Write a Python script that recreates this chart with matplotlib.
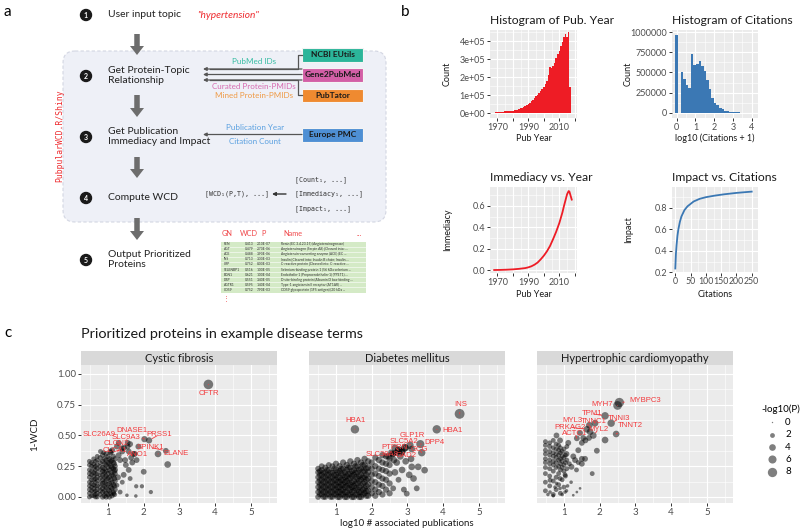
import matplotlib.pyplot as plt
import numpy as np
from matplotlib.patches import Circle, FancyArrow, FancyBboxPatch, Rectangle
from matplotlib.ticker import FuncFormatter, MultipleLocator

plt.rcParams['font.family'] = ['Lato', 'DejaVu Sans']
plt.rcParams['axes.unicode_minus'] = False

W, H = 800, 530
RED = '#ee2a2e'
BAR_RED = '#ee1c25'
BLUE = '#3b78b4'
LAB_RED = '#f23a3d'

# ---------------- panel b data ----------------
pub_years = list(range(1966, 2018))
pub_counts = [3000, 3500, 4000, 4500, 5000, 5500, 6000, 7000, 9000, 10000,
              11000, 12000, 13000, 14000, 15000, 17000, 19000, 21000, 24000, 27000,
              31000, 35000, 40000, 45000, 51000, 58000, 66000, 74000, 83000, 93000,
              104000, 115000, 125000, 136000, 147000, 160000, 180000, 210000, 255000, 250000,
              262000, 280000, 305000, 330000, 345000, 372000, 395000, 420000, 440000, 420000,
              450000, 145000]

cit_bins = [0.0, 0.137, 0.274, 0.411, 0.548, 0.685, 0.822, 0.959, 1.096, 1.233,
            1.370, 1.507, 1.644, 1.781, 1.918, 2.055, 2.192, 2.329, 2.466, 2.603,
            2.740, 2.877, 3.014, 3.151, 3.288, 3.425, 3.562, 3.699, 3.836, 3.973]
cit_counts = [967000, 0, 510000, 415000, 348000, 311000, 735000, 594000, 603000, 640000,
              584000, 520000, 404000, 300000, 185000, 123000, 90000, 62000, 41000, 25000,
              16000, 12000, 8000, 5000, 3000, 1500, 800, 400, 200, 100]

imm_year = [1968, 1972, 1976, 1980, 1984, 1988, 1990, 1992, 1994, 1996, 1998, 2000,
            2002, 2004, 2006, 2008, 2010, 2012, 2013, 2014, 2015, 2016, 2016.5, 2017, 2018]
imm_val = [0.000, 0.001, 0.003, 0.006, 0.011, 0.018, 0.025, 0.035, 0.050, 0.070, 0.100, 0.134,
           0.175, 0.225, 0.290, 0.360, 0.440, 0.540, 0.600, 0.655, 0.710, 0.740, 0.735, 0.710, 0.660]

imp_cit = [0, 2, 4, 7, 10, 15, 20, 30, 40, 60, 80, 100, 130, 160, 200, 250]
imp_val = [0.235, 0.37, 0.45, 0.54, 0.60, 0.67, 0.72, 0.78, 0.815, 0.86, 0.885, 0.90,
           0.915, 0.927, 0.94, 0.952]

# ---------------- panel c data ----------------
facet_names = ['Cystic fibrosis', 'Diabetes mellitus', 'Hypertrophic cardiomyopathy']

# dense columns: (log10 # pubs, -log10 P, list of 1-WCD)
cf_cols = [
    (0.48, 2.0, [0.00, 0.03, 0.06, 0.09, 0.12, 0.16, 0.19, 0.22, 0.26, 0.29]),
    (0.54, 2.0, [0.01, 0.05, 0.08, 0.11, 0.14, 0.18, 0.21, 0.25, 0.28]),
    (0.60, 2.0, [0.01, 0.04, 0.07, 0.10, 0.14, 0.17, 0.20, 0.24, 0.27, 0.31]),
    (0.65, 2.0, [0.00, 0.02, 0.05, 0.09, 0.12, 0.15, 0.19, 0.22, 0.25, 0.29]),
    (0.70, 2.0, [0.00, 0.03, 0.06, 0.09, 0.13, 0.16, 0.19, 0.23, 0.26, 0.30, 0.33]),
    (0.78, 2.0, [0.02, 0.05, 0.08, 0.11, 0.15, 0.18, 0.22, 0.25, 0.28, 0.32]),
    (0.85, 2.5, [0.00, 0.04, 0.07, 0.11, 0.14, 0.18, 0.21, 0.24, 0.29, 0.34]),
    (0.90, 2.5, [0.01, 0.05, 0.09, 0.12, 0.16, 0.20, 0.23, 0.27, 0.31]),
    (0.95, 2.5, [0.00, 0.03, 0.08, 0.13, 0.17, 0.21, 0.26, 0.30, 0.35]),
    (1.00, 2.5, [0.02, 0.06, 0.10, 0.15, 0.19, 0.24, 0.28, 0.33]),
    (1.04, 2.5, [0.00, 0.05, 0.11, 0.16, 0.22, 0.27, 0.31]),
    (1.08, 2.5, [0.03, 0.08, 0.14, 0.20, 0.25, 0.29, 0.36]),
    (1.11, 2.5, [0.01, 0.07, 0.12, 0.18, 0.24, 0.30]),
    (1.15, 2.5, [0.04, 0.10, 0.17, 0.23, 0.28, 0.33]),
    (1.18, 2.5, [0.02, 0.09, 0.15, 0.21, 0.27]),
    (1.20, 2.5, [0.06, 0.13, 0.19, 0.25, 0.31]),
]
cf_x = [1.25, 1.34, 1.53, 1.16, 1.20, 1.34, 1.44, 1.58, 1.62, 1.48, 1.58, 1.72, 1.39, 1.07,
        0.88, 0.79, 1.30, 1.50, 1.68, 1.80, 1.40, 1.28, 1.12, 1.65, 1.79, 1.95, 2.20, 1.78,
        2.00, 2.67, 1.55, 1.85, 1.25, 1.62]
cf_y = [0.095, 0.04, 0.014, 0.027, 0.22, 0.30, 0.18, 0.22, 0.15, 0.30, 0.37, 0.35, 0.395, 0.37,
        0.36, 0.37, 0.34, 0.26, 0.28, 0.30, 0.12, 0.16, 0.38, 0.32, 0.087, 0.087, 0.04, 0.008,
        0.205, 0.264, 0.41, 0.41, 0.41, 0.43]
cf_p = [2, 2, 1, 2, 3, 3, 3, 3, 2, 3, 3, 3, 3, 3,
        2, 2, 3, 3, 3, 3, 2, 3, 3, 3, 1.5, 1.5, 1.5, 1,
        3, 4, 3, 3, 3, 3]
cf_lab = ['CFTR', 'ELANE', 'DNASE1', 'PRSS1', 'SLC26A9', 'SLC9A3', 'CLCN2', 'CLCA1', 'SPINK1', 'ANO1']
cf_lab_pt_x = [3.81, 2.40, 2.02, 2.15, 1.30, 1.55, 1.45, 1.40, 2.62, 1.75]
cf_lab_pt_y = [0.915, 0.35, 0.47, 0.46, 0.44, 0.44, 0.40, 0.37, 0.375, 0.35]
cf_lab_pt_p = [8.5, 4, 3.5, 3.5, 3, 3, 3, 3, 3, 3]
cf_lab_x = [3.82, 2.90, 1.67, 2.43, 0.75, 1.51, 1.22, 1.20, 2.19, 1.83]
cf_lab_y = [0.845, 0.354, 0.54, 0.507, 0.504, 0.485, 0.436, 0.381, 0.403, 0.349]

dm_cols = [
    (0.50, 3.0, [0.00, 0.04, 0.08, 0.12, 0.16, 0.20, 0.23]),
    (0.55, 3.0, [0.02, 0.06, 0.10, 0.14, 0.18, 0.21]),
    (0.60, 3.0, [0.02, 0.06, 0.10, 0.14, 0.18, 0.22, 0.25]),
    (0.65, 3.0, [0.00, 0.04, 0.08, 0.12, 0.16, 0.20]),
    (0.70, 3.0, [0.00, 0.04, 0.08, 0.12, 0.16, 0.20, 0.24]),
    (0.75, 3.0, [0.02, 0.06, 0.10, 0.14, 0.18, 0.22]),
    (0.80, 3.0, [0.02, 0.06, 0.10, 0.14, 0.18, 0.22, 0.26]),
    (0.85, 3.0, [0.00, 0.04, 0.08, 0.12, 0.16, 0.20]),
    (0.90, 3.0, [0.00, 0.04, 0.08, 0.12, 0.16, 0.20, 0.25]),
    (0.95, 3.0, [0.02, 0.06, 0.10, 0.14, 0.18, 0.23]),
    (1.00, 3.5, [0.02, 0.06, 0.10, 0.14, 0.18, 0.22, 0.27]),
    (1.05, 3.5, [0.00, 0.04, 0.08, 0.12, 0.16, 0.20]),
    (1.10, 3.5, [0.00, 0.04, 0.08, 0.12, 0.16, 0.21, 0.25]),
    (1.15, 3.5, [0.02, 0.06, 0.10, 0.14, 0.19, 0.23]),
    (1.20, 3.5, [0.02, 0.06, 0.10, 0.14, 0.18, 0.23, 0.28]),
    (1.25, 3.5, [0.00, 0.04, 0.08, 0.12, 0.16, 0.20]),
    (1.30, 3.5, [0.00, 0.04, 0.09, 0.13, 0.17, 0.22, 0.26]),
    (1.35, 3.5, [0.02, 0.07, 0.11, 0.15, 0.19, 0.24]),
    (1.40, 3.5, [0.02, 0.06, 0.10, 0.15, 0.19, 0.24, 0.29]),
    (1.45, 3.5, [0.00, 0.04, 0.08, 0.12, 0.17, 0.21]),
    (1.50, 3.5, [0.00, 0.05, 0.09, 0.13, 0.18, 0.22, 0.27]),
    (1.55, 3.5, [0.02, 0.07, 0.11, 0.16, 0.20, 0.25]),
    (1.60, 3.5, [0.02, 0.06, 0.11, 0.15, 0.20, 0.25, 0.30]),
    (1.65, 3.5, [0.00, 0.04, 0.08, 0.13, 0.17, 0.22]),
    (1.70, 3.5, [0.00, 0.04, 0.09, 0.14, 0.18, 0.23, 0.28]),
    (1.75, 3.5, [0.02, 0.06, 0.11, 0.16, 0.21, 0.26]),
    (1.80, 3.5, [0.03, 0.07, 0.12, 0.16, 0.21, 0.26, 0.31]),
    (1.85, 3.5, [0.01, 0.05, 0.09, 0.14, 0.18, 0.23]),
    (1.90, 3.5, [0.01, 0.05, 0.10, 0.15, 0.20, 0.24, 0.29]),
    (2.00, 3.5, [0.03, 0.08, 0.13, 0.18, 0.23, 0.28]),
    (2.10, 3.5, [0.01, 0.06, 0.12, 0.19, 0.25, 0.32]),
    (2.20, 3.5, [0.04, 0.10, 0.17, 0.23, 0.30]),
    (2.30, 3.5, [0.02, 0.09, 0.15, 0.22, 0.28, 0.34]),
    (2.40, 3.5, [0.06, 0.14, 0.21, 0.27, 0.33]),
    (2.50, 3.5, [0.03, 0.11, 0.19, 0.26, 0.31]),
]
dm_x = [2.60, 2.65, 2.70, 2.75, 2.80, 2.85, 2.90, 2.95, 2.98, 3.05, 3.12, 3.17, 3.26, 3.30,
        3.48, 3.10, 2.70, 2.55, 2.62, 2.47, 2.59, 2.75, 2.84, 2.93, 3.12, 2.65]
dm_y = [0.07, 0.20, 0.28, 0.14, 0.33, 0.22, 0.06, 0.29, 0.027, 0.18, 0.245, 0.15, 0.07, 0.245,
        0.218, 0.31, 0.36, 0.36, 0.30, 0.33, 0.35, 0.38, 0.368, 0.40, 0.39, 0.40]
dm_p = [3, 4, 4, 3, 4, 4, 3, 4, 3, 4, 4, 4, 3, 4,
        4, 4, 4, 4, 4, 4, 4, 5, 5, 5, 4, 4]
dm_lab = ['INS', 'HBA1', 'HBA1', 'GLP1R', 'SLC5A2', 'DPP4', 'PTPRN', 'GCG', 'SLC30A8', 'GAD2']
dm_lab_pt_x = [4.46, 1.53, 3.82, 3.07, 2.93, 3.36, 2.75, 3.40, 2.59, 2.84]
dm_lab_pt_y = [0.676, 0.55, 0.55, 0.42, 0.40, 0.43, 0.38, 0.36, 0.35, 0.368]
dm_lab_pt_p = [9, 6.5, 6.5, 5, 5, 6, 5, 5, 4, 5]
dm_lab_x = [4.50, 1.54, 4.25, 3.13, 2.90, 3.75, 2.64, 3.33, 2.28, 2.96]
dm_lab_y = [0.755, 0.619, 0.537, 0.496, 0.45, 0.444, 0.403, 0.387, 0.349, 0.335]

hc_cols = [
    (0.48, 2.0, [0.05, 0.12, 0.19, 0.24, 0.28, 0.31, 0.35, 0.38, 0.42, 0.45]),
    (0.60, 2.0, [0.09, 0.17, 0.23, 0.27, 0.30, 0.34, 0.37, 0.41, 0.44]),
    (0.70, 2.0, [0.02, 0.13, 0.21, 0.26, 0.29, 0.33, 0.36, 0.40, 0.46]),
    (0.78, 2.0, [0.06, 0.16, 0.24, 0.28, 0.32, 0.35, 0.39, 0.43]),
    (0.85, 2.0, [0.10, 0.19, 0.25, 0.30, 0.34, 0.38, 0.42]),
    (0.90, 2.0, [0.03, 0.22, 0.27, 0.31, 0.36, 0.40]),
    (0.95, 2.0, [0.14, 0.24, 0.29, 0.33, 0.37]),
    (1.00, 2.0, [0.08, 0.21, 0.26, 0.32, 0.39]),
    (1.04, 2.0, [0.17, 0.28, 0.34]),
    (1.08, 2.0, [0.23, 0.30, 0.41]),
]
hc_x = [2.15, 1.92, 1.79, 1.54, 1.73, 1.45, 1.60, 1.70, 1.50, 1.40, 1.26, 1.31, 1.50, 1.21,
        1.40, 1.03, 0.89, 0.61, 0.79, 0.61, 0.75, 0.89, 1.07, 1.26, 1.45, 1.36, 1.03, 1.12,
        0.79, 0.89, 1.07, 1.15, 1.35, 1.20, 1.10, 0.95, 0.70, 0.55, 1.59, 1.50]
hc_y = [0.463, 0.376, 0.19, 0.48, 0.53, 0.52, 0.46, 0.48, 0.44, 0.38, 0.33, 0.30, 0.31, 0.245,
        0.28, 0.18, 0.15, 0.136, 0.11, 0.04, 0.08, 0.07, 0.05, 0.014, 0.07, 0.04, 0.04, 0.44,
        0.50, 0.46, 0.35, 0.27, 0.22, 0.12, 0.09, 0.02, 0.01, 0.02, 0.31, 0.27]
hc_p = [4, 3, 2, 3, 4, 3, 3, 3, 3, 3, 3, 3, 3, 3,
        2, 2, 2, 2, 1, 1, 1, 1, 1, 0.5, 0.5, 0.5, 1, 3,
        3, 3, 3, 2, 2, 1, 1, 1, 1, 1, 3, 3]
hc_lab = ['MYBPC3', 'MYH7', 'TPM1', 'TNNI3', 'TNNT2', 'MYL3', 'TNNC1', 'PRKAG2', 'ACTC1', 'MYL2']
hc_lab_pt_x = [2.55, 2.50, 2.15, 2.32, 2.46, 1.71, 1.87, 1.64, 1.36, 1.82]
hc_lab_pt_y = [0.768, 0.744, 0.66, 0.60, 0.512, 0.583, 0.60, 0.55, 0.477, 0.50]
hc_lab_pt_p = [8, 7, 5, 5, 4, 4, 4, 4, 3, 4]
hc_lab_x = [3.27, 2.06, 1.79, 2.53, 2.85, 1.24, 1.84, 1.17, 1.31, 1.96]
hc_lab_y = [0.785, 0.755, 0.676, 0.635, 0.578, 0.621, 0.613, 0.567, 0.518, 0.548]

legend_vals = [0, 2, 4, 6, 8]

# ---------------- panel a data ----------------
steps = ['User input topic', 'Get Protein-Topic\nRelationship',
         'Get Publication\nImmediacy and Impact', 'Compute WCD',
         'Output Prioritized\nProteins']
tbl_gn = ['REN', 'AGT', 'ACE', 'INS', 'CRP', 'SELENBP1', 'EDN1', 'DBP', 'AGTR1', 'CD59']
tbl_wcd = ['0.413', '0.479', '0.488', '0.713', '0.752', '0.516', '0.621', '0.551', '0.595', '0.752']
tbl_p = ['2.10E-07', '2.70E-06', '3.90E-06', '3.30E-03', '8.00E-03', '1.00E-05',
         '1.00E-04', '3.40E-05', '1.40E-04', '7.90E-03']
tbl_name = ['Renin (EC 3.4.23.15) (Angiotensinogenase)',
            'Angiotensinogen (Serpin A8) [Cleaved into: ...',
            'Angiotensin-converting enzyme (ACE) (EC ...',
            'Insulin [Cleaved into: Insulin B chain; Insulin ...',
            'C-reactive protein [Cleaved into: C-reactive ...',
            'Selenium-binding protein 1 (56 kDa selenium ...',
            'Endothelin-1 (Preproendothelin-1) (PPET1) ...',
            'D site-binding protein (Albumin D box-binding ...',
            'Type-1 angiotensin II receptor (AT1AR) ...',
            'CD59 glycoprotein (1F5 antigen) (20 kDa ...']


def size(p):
    return 1.0 + 5.5 * np.asarray(p, dtype=float)


def px_axes(l, t, r, b):
    return fig.add_axes([l / W, 1 - b / H, (r - l) / W, (b - t) / H])


def gg(ax):
    ax.set_facecolor('#ebebeb')
    for s in ax.spines.values():
        s.set_visible(False)
    ax.grid(True, which='major', color='white', lw=0.8)
    ax.grid(True, which='minor', color='white', lw=0.4)
    ax.set_axisbelow(True)
    ax.tick_params(which='major', length=2, width=0.7, color='#333333',
                   labelsize=6.5, labelcolor='#4d4d4d', pad=1.5)
    ax.tick_params(which='minor', length=0)


fig = plt.figure(figsize=(8, 5.3), dpi=100)

# overlay in pixel coordinates for the flow chart and letters
ov = fig.add_axes([0, 0, 1, 1])
ov.set_xlim(0, W)
ov.set_ylim(H, 0)
ov.axis('off')

for letter, x, y in [('a', 4, 12), ('b', 401, 12), ('c', 4, 333)]:
    ov.text(x, y, letter, fontsize=11, va='center', ha='left')

# ---------------- panel a ----------------
ov.add_patch(FancyBboxPatch((63, 51), 323, 171, boxstyle='round,pad=0,rounding_size=12',
                            fc='#eef0f7', ec='#d3d6e2', lw=0.8, ls=(0, (3, 2))))
step_y = [15, 76, 137, 198, 260]
for i, (txt, y) in enumerate(zip(steps, step_y)):
    ov.add_patch(Circle((86, y), 5.5, color='#1a1a1a'))
    ov.text(86, y + 0.3, str(i + 1), color='white', fontsize=5, fontweight='bold',
            ha='center', va='center')
    ov.text(108, y - 0.5, txt, fontsize=7.5, va='center', ha='left', color='#222222',
            linespacing=1.25)
ov.text(197, 15, '"hypertension"', fontsize=7.3, style='italic', color=RED, va='center')

for y0, y1 in [(34, 55), (95, 117), (157, 178), (218, 240)]:
    ov.add_patch(FancyArrow(137, y0, 0, y1 - y0, width=5.5, head_width=14, head_length=9,
                            length_includes_head=True, color='#6d6d6d', lw=0))

sources = [('NCBI EUtils', 48, '#2bb59a'), ('Gene2PubMed', 68, '#d35fa6'),
           ('PubTator', 88.5, '#ef8a30'), ('Europe PMC', 128, '#4e8fd4')]
for name, y, c in sources:
    ov.add_patch(Rectangle((302, y), 61, 13.5, fc=c, ec='#f4f4f4', lw=0.8))
    ov.text(332.5, y + 6.9, name, fontsize=6.0, ha='center', va='center',
            color='#1a1a1a', fontweight='bold')

arrow_kw = dict(arrowstyle='-|>', color='#555555', lw=0.9, mutation_scale=5,
                shrinkA=0, shrinkB=0)
ov.plot([302, 298, 298, 210], [55, 55, 69, 69], color='#555555', lw=0.9)
ov.plot([302, 298, 298, 210], [95, 95, 80, 80], color='#555555', lw=0.9)
for y in [69, 74.5, 80, 134.5]:
    ov.annotate('', xy=(203, y), xytext=(302, y), arrowprops=arrow_kw)
ov.text(254, 62, 'PubMed IDs', fontsize=5.8, color='#35bca2', ha='center', va='center')
ov.text(254, 86.5, 'Curated Protein-PMIDs', fontsize=5.8, color='#d66bb0',
        ha='center', va='center')
ov.text(254, 95, 'Mined Protein-PMIDs', fontsize=5.8, color='#ef9a45',
        ha='center', va='center')
ov.text(255, 127, 'Publication Year', fontsize=5.8, color='#5aa0e0', ha='center', va='center')
ov.text(255, 141, 'Citation Count', fontsize=5.8, color='#5aa0e0', ha='center', va='center')

ov.text(60, 136, 'PubpularWCD.R/Shiny', rotation=90, family='DejaVu Sans Mono',
        fontsize=5.8, color=RED, ha='center', va='center')

mono = dict(family='DejaVu Sans Mono', fontsize=4.8, va='center', ha='left', color='#333333')
ov.text(205, 194, '[WCD\u2081(P,T), ...]', **mono)
ov.text(295, 180, '[Count\u2081, ...]', **mono)
ov.text(295, 194, '[Immediacy\u2081, ...]', **mono)
ov.text(295, 209, '[Impact\u2081, ...]', **mono)
ov.annotate('', xy=(272, 194), xytext=(286, 194),
            arrowprops=dict(arrowstyle='-|>', color='#333333', lw=1, mutation_scale=5,
                            shrinkA=0, shrinkB=0))

# output table
for lab, x in [('GN', 222), ('WCD', 240), ('P', 261), ('Name', 283), ('...', 357)]:
    ov.text(x, 234, lab, fontsize=5.3, color='#f0484b', va='center', ha='left')
row_h = 5.1
ov.add_patch(Rectangle((221, 241.5), 145, row_h * len(tbl_gn), fc='#d4eac6', ec='none'))
for i in range(len(tbl_gn)):
    yc = 241.5 + row_h * (i + 0.5)
    if i > 0:
        ov.plot([221, 366], [241.5 + row_h * i] * 2, color='white', lw=0.4)
    for x, val in [(224, tbl_gn[i]), (245, tbl_wcd[i]), (257, tbl_p[i]), (281, tbl_name[i])]:
        ov.text(x, yc, val, fontsize=2.4, va='center', ha='left', color='#333333')
ov.text(226, 298, '\u22ee', fontsize=5, color='#f0484b', ha='center', va='center')

# ---------------- panel b ----------------
label_kw = dict(fontsize=6.5, color='#1a1a1a')
title_kw = dict(fontsize=8.7, loc='left', pad=4.5, color='#1a1a1a')


def place_labels(ax, xl, yl, xpos, ypos):
    ax.set_xlabel(xl, **label_kw)
    ax.set_ylabel(yl, **label_kw)
    ax.xaxis.set_label_coords(*xpos)
    ax.yaxis.set_label_coords(*ypos)
    ax.xaxis.label.set_va('center')
    ax.yaxis.label.set_va('center')


year_fmt = FuncFormatter(lambda v, p: f'{int(round(v))}' if int(round(v)) in (1970, 1990, 2010) else '')

ax1 = px_axes(490, 30, 577, 118)
gg(ax1)
ax1.bar(pub_years, pub_counts, width=1.0, color=BAR_RED, lw=0)
ax1.set_xlim(1965.3, 2021.4)
ax1.set_ylim(-26000, 461000)
ax1.xaxis.set_major_locator(MultipleLocator(10))
ax1.xaxis.set_minor_locator(MultipleLocator(5))
ax1.xaxis.set_major_formatter(year_fmt)
ax1.yaxis.set_major_locator(MultipleLocator(100000))
ax1.yaxis.set_minor_locator(MultipleLocator(50000))
ax1.yaxis.set_major_formatter(FuncFormatter(lambda v, p: f'{v:.0e}'))
ax1.set_title('Histogram of Pub. Year', **title_kw)
place_labels(ax1, 'Pub Year', 'Count', (0.5, -0.23), (-0.49, 0.5))

ax2 = px_axes(672, 30, 758, 118)
gg(ax2)
ax2.bar(cit_bins, cit_counts, width=0.137, color=BLUE, lw=0)
ax2.set_xlim(-0.25, 4.34)
ax2.set_ylim(-66000, 1028000)
ax2.xaxis.set_major_locator(MultipleLocator(1))
ax2.xaxis.set_minor_locator(MultipleLocator(0.5))
ax2.yaxis.set_major_locator(MultipleLocator(250000))
ax2.yaxis.set_minor_locator(MultipleLocator(125000))
ax2.yaxis.set_major_formatter(FuncFormatter(lambda v, p: f'{int(v)}'))
ax2.set_title('Histogram of Citations', **title_kw)
place_labels(ax2, 'log10 (Citations + 1)', 'Count', (0.5, -0.23), (-0.51, 0.5))

ax3 = px_axes(490, 187, 577, 273)
gg(ax3)
ax3.plot(imm_year, imm_val, color=BAR_RED, lw=1.3)
ax3.set_xlim(1965.3, 2021.4)
ax3.set_ylim(-0.028, 0.778)
ax3.xaxis.set_major_locator(MultipleLocator(10))
ax3.xaxis.set_minor_locator(MultipleLocator(5))
ax3.xaxis.set_major_formatter(year_fmt)
ax3.yaxis.set_major_locator(MultipleLocator(0.2))
ax3.yaxis.set_minor_locator(MultipleLocator(0.1))
ax3.yaxis.set_major_formatter(FuncFormatter(lambda v, p: f'{v:.1f}'))
ax3.set_title('Immediacy vs. Year', **title_kw)
place_labels(ax3, 'Pub Year', 'Immediacy', (0.5, -0.25), (-0.49, 0.5))

ax4 = px_axes(672, 187, 758, 273)
gg(ax4)
ax4.plot(imp_cit, imp_val, color=BLUE, lw=1.3)
ax4.set_xlim(-10.8, 270.6)
ax4.set_ylim(0.193, 0.995)
ax4.xaxis.set_major_locator(MultipleLocator(50))
ax4.xaxis.set_minor_locator(MultipleLocator(25))
ax4.yaxis.set_major_locator(MultipleLocator(0.2))
ax4.yaxis.set_minor_locator(MultipleLocator(0.1))
ax4.yaxis.set_major_formatter(FuncFormatter(lambda v, p: f'{v:.1f}'))
ax4.tick_params(axis='x', labelsize=6.3, pad=1)
ax4.set_title('Impact vs. Citations', **title_kw)
place_labels(ax4, 'Citations', 'Impact', (0.5, -0.25), (-0.5, 0.5))

# ---------------- panel c ----------------
ov.text(81, 334, 'Prioritized proteins in example disease terms', fontsize=10.4,
        va='center', ha='left', color='#1a1a1a')

facet_data = [
    (cf_cols, cf_x, cf_y, cf_p, cf_lab, cf_lab_pt_x, cf_lab_pt_y, cf_lab_pt_p, cf_lab_x, cf_lab_y),
    (dm_cols, dm_x, dm_y, dm_p, dm_lab, dm_lab_pt_x, dm_lab_pt_y, dm_lab_pt_p, dm_lab_x, dm_lab_y),
    (hc_cols, hc_x, hc_y, hc_p, hc_lab, hc_lab_pt_x, hc_lab_pt_y, hc_lab_pt_p, hc_lab_x, hc_lab_y),
]
lefts = [81, 309, 537]
for k, (name, left, data) in enumerate(zip(facet_names, lefts, facet_data)):
    cols, xs, ys, ps, labs, lpx, lpy, lpp, lx, ly = data
    ax = px_axes(left, 365, left + 196, 503)
    gg(ax)
    for cx, cp, cys in cols:
        ax.scatter([cx] * len(cys), cys, s=size([cp] * len(cys)), c='black', alpha=0.5, lw=0)
    ax.scatter(xs, ys, s=size(ps), c='black', alpha=0.5, lw=0)
    ax.scatter(lpx, lpy, s=size(lpp), c='black', alpha=0.5, lw=0)
    for lab, px_, py_, tx, ty in zip(labs, lpx, lpy, lx, ly):
        ax.annotate(lab, xy=(px_, py_), xytext=(tx, ty), fontsize=5.6, color=LAB_RED,
                    family=['Liberation Sans', 'DejaVu Sans'], ha='center', va='center',
                    arrowprops=dict(arrowstyle='-', color=LAB_RED, lw=0.6,
                                    shrinkA=1.5, shrinkB=2.5))
    ax.set_xlim(0.245, 5.73)
    ax.set_ylim(-0.049, 1.073)
    ax.xaxis.set_major_locator(MultipleLocator(1))
    ax.xaxis.set_minor_locator(MultipleLocator(0.5))
    ax.yaxis.set_major_locator(MultipleLocator(0.25))
    ax.yaxis.set_minor_locator(MultipleLocator(0.125))
    ax.yaxis.set_major_formatter(FuncFormatter(lambda v, p: f'{v:.2f}'))
    ax.tick_params(labelsize=7)
    if k > 0:
        ax.tick_params(axis='y', left=False, labelleft=False)
    ax.add_patch(Rectangle((0, 1.0), 1, 14 / 138, transform=ax.transAxes, clip_on=False,
                           fc='#d9d9d9', ec='none'))
    ax.text(0.5, 1 + 7 / 138, name, transform=ax.transAxes, fontsize=8, ha='center',
            va='center', color='#1a1a1a')

fig.text(407 / W, 1 - 524 / H, 'log10 # associated publications', ha='center', va='center',
         fontsize=7, color='#1a1a1a')
fig.text(35 / W, 1 - 434 / H, '1-WCD', ha='center', va='center', rotation=90,
         fontsize=7, color='#1a1a1a')

handles = [ov.scatter([], [], s=size(v), c='black', alpha=0.5, lw=0) for v in legend_vals]
fig.legend(handles, [str(v) for v in legend_vals], title='-log10(P)', loc='upper left',
           bbox_to_anchor=(755 / W, 1 - 398 / H), frameon=False, fontsize=7,
           title_fontsize=7, labelspacing=0.35, handletextpad=0.4, borderpad=0.2,
           alignment='left')

fig.savefig('out.png', dpi=100)
